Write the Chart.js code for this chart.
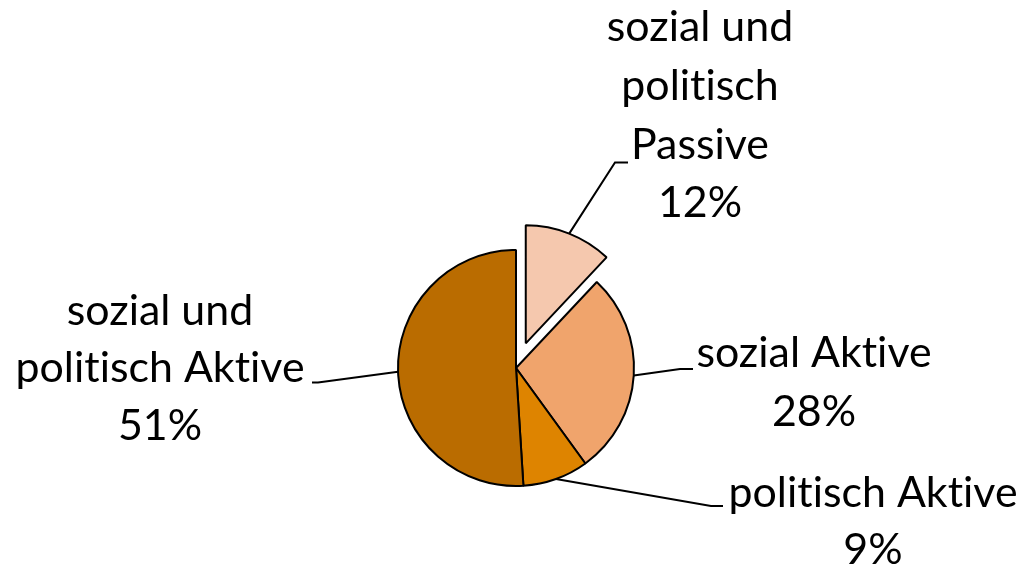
<!DOCTYPE html>
<html>
<head>
<meta charset="utf-8">
<script src="https://cdn.jsdelivr.net/npm/chart.js@4/dist/chart.umd.min.js"></script>
<style>
  html, body { margin: 0; padding: 0; background: #fff; }
  canvas { display: block; }
</style>
</head>
<body>
<canvas id="grafico" width="1026" height="569"></canvas>
<script>
// dados
const categorias = ["sozial und politisch Passive", "sozial Aktive", "politisch Aktive", "sozial und politisch Aktive"];
const valores = [12, 28, 9, 51];

// estilo
const cores = ["#F5C8AE", "#F0A46C", "#DE8400", "#BA6C00"];
const explodir = [26.5, 0, 0, 0];
const fonteNome = "Lato";

// layout dos rótulos (linhas de texto, centro x, baselines, cotovelo e fim da linha guia)
const rotulos = [
    { linhas: ["sozial und", "politisch", "Passive"], cx: 700, base: [41, 100, 159, 217], cotovelo: [615, 162.5], fim: [628, 162.5] },
    { linhas: ["sozial Aktive"], cx: 814, base: [367, 426], cotovelo: [680, 369], fim: [693, 369] },
    { linhas: ["politisch Aktive"], cx: 873, base: [507, 564], cotovelo: [711, 506], fim: [723, 506] },
    { linhas: ["sozial und", "politisch Aktive"], cx: 160, base: [325, 382, 440], cotovelo: [318, 382.5], fim: [312, 382.5] }
];

// desloca a fatia destacada sem mudar o raio
const pluginExplodir = {
    id: 'explodir',
    beforeDatasetsDraw(chart) {
        chart.getDatasetMeta(0).data.forEach((arc, i) => {
            const d = explodir[i];
            if (!d || arc._explodido) return;
            const original = arc.draw;
            arc.draw = function (ctx, area) {
                const meio = (this.startAngle + this.endAngle) / 2;
                ctx.save();
                ctx.translate(Math.cos(meio) * d, Math.sin(meio) * d);
                original.call(this, ctx, area);
                ctx.restore();
            };
            arc._explodido = true;
        });
    }
};

// linhas guia + textos
const pluginRotulos = {
    id: 'rotulos',
    afterDraw(chart) {
        const ctx = chart.ctx;
        ctx.save();
        if ('letterSpacing' in ctx) ctx.letterSpacing = "0.01px"; // sem ligadura "ti"
        ctx.font = `100px ${fonteNome}`;
        const tamanho = 100 * 289 / ctx.measureText("politisch Aktive").width;
        ctx.font = `${tamanho}px ${fonteNome}`;

        chart.getDatasetMeta(0).data.forEach((arc, i) => {
            const r = rotulos[i];
            const meio = (arc.startAngle + arc.endAngle) / 2;
            const d = explodir[i];
            const px = arc.x + Math.cos(meio) * (arc.outerRadius + d);
            const py = arc.y + Math.sin(meio) * (arc.outerRadius + d);

            ctx.strokeStyle = "#000";
            ctx.lineWidth = 2;
            ctx.beginPath();
            ctx.moveTo(px, py);
            ctx.lineTo(r.cotovelo[0], r.cotovelo[1]);
            ctx.lineTo(r.fim[0], r.fim[1]);
            ctx.stroke();

            ctx.fillStyle = "#000";
            ctx.textAlign = "center";
            ctx.textBaseline = "alphabetic";
            const textos = r.linhas.concat([valores[i] + "%"]);
            textos.forEach((t, j) => ctx.fillText(t, r.cx, r.base[j]));
        });
        ctx.restore();
    }
};

document.addEventListener('DOMContentLoaded', function () {
    const ctx = document.getElementById('grafico').getContext('2d');
    new Chart(ctx, {
        type: 'pie',
        data: {
            labels: categorias,
            datasets: [{
                data: valores,
                backgroundColor: cores,
                borderColor: "#000",
                borderWidth: 2
            }]
        },
        options: {
            responsive: false,
            animation: false,
            radius: 118,
            layout: { padding: { left: 206, right: 200, top: 220, bottom: 53 } },
            plugins: {
                legend: { display: false },
                tooltip: { enabled: false }
            }
        },
        plugins: [pluginExplodir, pluginRotulos]
    });
});
</script>
</body>
</html>
